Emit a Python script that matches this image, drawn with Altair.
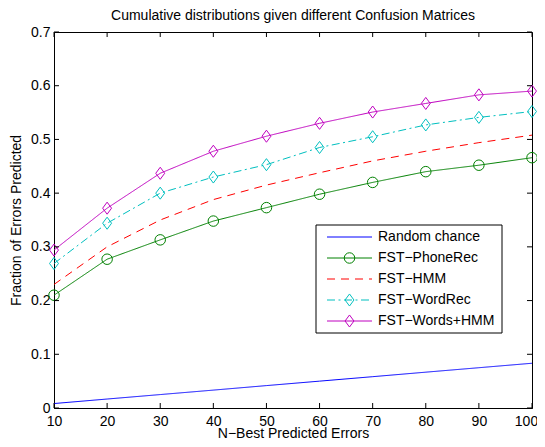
import altair as alt
import pandas as pd

# ---------------- data ----------------
N = [10, 20, 30, 40, 50, 60, 70, 80, 90, 100]
random_chance = [0.0083, 0.0167, 0.025, 0.0333, 0.0417, 0.05, 0.0583, 0.0667, 0.075, 0.0833]
fst_phonerec = [0.210, 0.277, 0.313, 0.348, 0.373, 0.398, 0.420, 0.440, 0.452, 0.466]
fst_hmm = [0.230, 0.300, 0.350, 0.388, 0.415, 0.438, 0.460, 0.478, 0.494, 0.508]
fst_wordrec = [0.269, 0.344, 0.400, 0.430, 0.453, 0.485, 0.505, 0.527, 0.541, 0.552]
fst_words_hmm = [0.294, 0.372, 0.437, 0.478, 0.506, 0.530, 0.551, 0.567, 0.583, 0.590]

series_names = ["Random chance", "FST\u2212PhoneRec", "FST\u2212HMM", "FST\u2212WordRec", "FST\u2212Words+HMM"]
series_values = [random_chance, fst_phonerec, fst_hmm, fst_wordrec, fst_words_hmm]
x_ticks = [10, 20, 30, 40, 50, 60, 70, 80, 90, 100]
y_ticks = [0, 0.1, 0.2, 0.3, 0.4, 0.5, 0.6, 0.7]

# ---------------- styles ----------------
colors = ["#0000ff", "#008000", "#ff0000", "#00bfbf", "#bf00bf"]
dashes = [[1, 0], [1, 0], [8, 6], [8, 3.5, 2, 3.5], [1, 0]]
DIAMOND = "M0,-1.15L0.85,0L0,1.15L-0.85,0Z"
markers = [None, "circle", None, DIAMOND, DIAMOND]
FONT = "Liberation Sans"

W, H = 478, 376

rows = []
for name, vals in zip(series_names, series_values):
    for n, v in zip(N, vals):
        rows.append({"N": n, "F": v, "series": name})
df = pd.DataFrame(rows)
marker_series = [s for s, m in zip(series_names, markers) if m]
df_pts = df[df["series"].isin(marker_series)]

x_scale = alt.Scale(domain=[10, 100], nice=False, zero=False)
y_scale = alt.Scale(domain=[0, 0.7], nice=False, zero=False)

x_axis = alt.Axis(values=x_ticks, title="N\u2212Best Predicted Errors", grid=False,
                  ticks=False, tickSize=0, labelPadding=6, labelFontSize=14,
                  labelFont=FONT, labelColor="black", titleFont=FONT,
                  titleFontSize=14, titleFontWeight="normal", titleColor="black",
                  titleY=29, titleBaseline="alphabetic",
                  labelOffset={"condition": {"test": "datum.value == 100", "value": -6}, "value": 0},
                  domainColor="black", labelFlush=False)
y_axis = alt.Axis(values=y_ticks, title="Fraction of Errors Predicted", grid=False,
                  ticks=False, tickSize=0, labelPadding=4, labelFontSize=14,
                  labelFont=FONT, labelColor="black", titleFont=FONT,
                  titleFontSize=14, titleFontWeight="normal", titleColor="black",
                  titleX=-34, titleBaseline="alphabetic",
                  labelExpr="datum.value == 0 ? '0' : format(datum.value, '.1f')",
                  domainColor="black", labelFlush=False)


def xenc(field="N"):
    return alt.X(f"{field}:Q", scale=x_scale, axis=x_axis)


def yenc(field="F"):
    return alt.Y(f"{field}:Q", scale=y_scale, axis=y_axis)


color_enc = alt.Color("series:N", scale=alt.Scale(domain=series_names, range=colors), legend=None)
dash_enc = alt.StrokeDash("series:N", scale=alt.Scale(domain=series_names, range=dashes), legend=None)
shape_enc = alt.Shape("series:N", scale=alt.Scale(domain=series_names,
                                                  range=[m if m else "circle" for m in markers]),
                      legend=None)

lines = alt.Chart(df).mark_line(strokeWidth=1).encode(
    x=xenc(), y=yenc(), color=color_enc, strokeDash=dash_enc, detail="series:N"
)
points = alt.Chart(df_pts).mark_point(filled=False, size=110, strokeWidth=1, opacity=1).encode(
    x=xenc(), y=yenc(), color=color_enc, shape=shape_enc
)

# inward tick marks on all four sides
xt = pd.DataFrame({"N": x_ticks})
yt = pd.DataFrame({"F": y_ticks})
TL = 5
ticks_bottom = alt.Chart(xt).mark_rule(color="black", strokeWidth=1).encode(
    x=xenc(), y=alt.value(H), y2=alt.value(H - TL))
ticks_top = alt.Chart(xt).mark_rule(color="black", strokeWidth=1).encode(
    x=xenc(), y=alt.value(0), y2=alt.value(TL))
ticks_left = alt.Chart(yt).mark_rule(color="black", strokeWidth=1).encode(
    y=yenc(), x=alt.value(0), x2=alt.value(TL))
ticks_right = alt.Chart(yt).mark_rule(color="black", strokeWidth=1).encode(
    y=yenc(), x=alt.value(W), x2=alt.value(W - TL))

# manual legend (MATLAB style)
LX0, LX1, LY0, LY1 = 262, 448, 193, 301
ROW0, ROWSTEP = 205, 21
SEG0, SEG1, TXT = 273, 318, 324
one = alt.Data(values=[{"k": 0}])
legend_layers = [
    alt.Chart(one).mark_rect(fill="white", stroke="black", strokeWidth=1).encode(
        x=alt.value(LX0), x2=alt.value(LX1), y=alt.value(LY0), y2=alt.value(LY1))
]
for i, (name, c, d, m) in enumerate(zip(series_names, colors, dashes, markers)):
    yy = ROW0 + i * ROWSTEP
    legend_layers.append(
        alt.Chart(one).mark_rule(color=c, strokeDash=d, strokeWidth=1).encode(
            x=alt.value(SEG0), x2=alt.value(SEG1), y=alt.value(yy)))
    if m:
        legend_layers.append(
            alt.Chart(one).mark_point(shape=m, size=110, filled=False, color=c,
                                      strokeWidth=1, opacity=1).encode(
                x=alt.value((SEG0 + SEG1) / 2), y=alt.value(yy)))
    legend_layers.append(
        alt.Chart(one).mark_text(text=name, align="left", baseline="middle",
                                 fontSize=14, font=FONT, color="black").encode(
            x=alt.value(TXT), y=alt.value(yy)))

chart = alt.layer(
    lines, points, ticks_bottom, ticks_top, ticks_left, ticks_right, *legend_layers
).properties(
    width=W, height=H,
    title=alt.TitleParams("Cumulative distributions given different Confusion Matrices",
                          font=FONT, fontSize=14, fontWeight="normal", color="black",
                          offset=2, anchor="middle", frame="group"),
    autosize=alt.AutoSizeParams(type="none"),
    padding={"left": 46, "top": 24, "right": 5, "bottom": 31},
    background="white",
).configure_view(stroke="black", strokeWidth=1)

chart.save("out.html", embed_options={"renderer": "svg", "actions": False})
